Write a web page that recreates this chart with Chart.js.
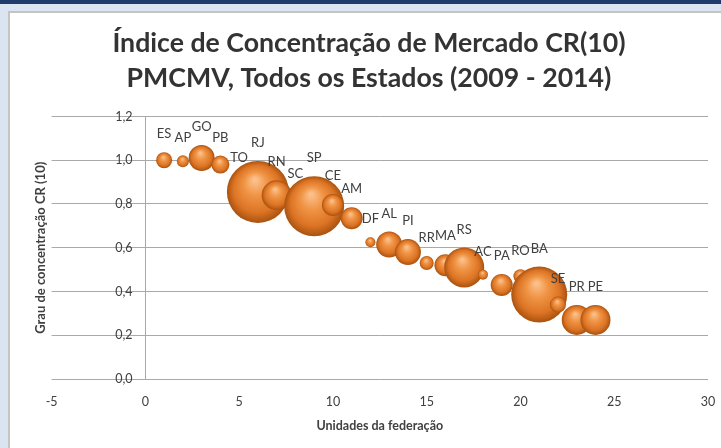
<!DOCTYPE html>
<html>
<head>
<meta charset="utf-8">
<script src="https://cdn.jsdelivr.net/npm/chart.js@4"></script>
<style>
  body { margin: 0; background: #dbe5f1; width: 721px; height: 448px; overflow: hidden; position: relative; }
  .barra { position: absolute; left: 0; top: 0; width: 721px; height: 4px; background: #1f3b6b; }
  .painel { position: absolute; left: 8px; top: 11px; width: 711px; height: 435px; background: #fff;
            border-left: 2px solid #c4c4c4; border-top: 2px solid #c4c4c4; }
</style>
</head>
<body>
<div class="barra"></div>
<div class="painel"><canvas id="graficoCR" width="711" height="435"></canvas></div>
<script>
// estados na ordem do eixo x (posição 1..24)
const estados = ["ES", "AP", "GO", "PB", "TO", "RJ", "RN", "SC", "SP", "CE", "AM", "DF",
  "AL", "PI", "RR", "MA", "RS", "AC", "PA", "RO", "BA", "SE", "PR", "PE"];
const posicao = [1, 2, 3, 4, 5, 6, 7, 8, 9, 10, 11, 12, 13, 14, 15, 16, 17, 18, 19, 20, 21, 22, 23, 24];
const cr10 = [1.00, 0.995, 1.01, 0.98, 0.895, 0.855, 0.84, 0.82, 0.79, 0.795, 0.735, 0.625,
  0.615, 0.58, 0.53, 0.52, 0.51, 0.477, 0.43, 0.47, 0.386, 0.34, 0.27, 0.27];
// tamanho da bolha
const tamanho = [8, 6, 13, 9, 7, 31, 15, 8, 30, 11, 11, 5, 13, 13, 7, 11, 20, 5, 11, 7, 28, 8, 15, 15];
const ticksX = [-5, 0, 5, 10, 15, 20, 25, 30];

const fonte = "Lato, 'Liberation Sans', sans-serif";
const cinza = "#404040";

function corBolha(c) {
  const chart = c.chart;
  const p = c.raw;
  if (!p || !chart.chartArea) return "#e07a2a";
  const x = chart.scales.x.getPixelForValue(p.x);
  const y = chart.scales.y.getPixelForValue(p.y);
  const r = p.r;
  const g = chart.ctx.createRadialGradient(x - r * 0.1, y - r * 0.4, r * 0.05, x, y, r);
  g.addColorStop(0, "#fbc08a");
  g.addColorStop(0.35, "#f09445");
  g.addColorStop(0.75, "#dc7424");
  g.addColorStop(1, "#a9520f");
  return g;
}

// rótulos dos estados acima de cada bolha
const rotulos = {
  id: "rotulos",
  afterDatasetsDraw(chart) {
    const ctx = chart.ctx;
    const meta = chart.getDatasetMeta(0);
    ctx.save();
    ctx.font = "13px " + fonte;
    ctx.fillStyle = cinza;
    ctx.textAlign = "center";
    ctx.textBaseline = "middle";
    meta.data.forEach((el, i) => {
      const r = chart.data.datasets[0].data[i].r;
      ctx.fillText(estados[i], el.x, el.y - r - 18);
    });
    ctx.restore();
  }
};

const pontos = estados.map((e, i) => ({ x: posicao[i], y: cr10[i], r: tamanho[i] }));

new Chart(document.getElementById("graficoCR"), {
  type: "bubble",
  data: {
    datasets: [{
      label: "CR(10)",
      data: pontos,
      backgroundColor: corBolha,
      borderWidth: 0,
      hoverBorderWidth: 0
    }]
  },
  options: {
    responsive: false,
    animation: false,
    layout: { autoPadding: false, padding: { left: 20, right: 13, bottom: 11, top: 0 } },
    plugins: {
      legend: { display: false },
      tooltip: { enabled: false },
      title: {
        display: true,
        fullSize: true,
        text: ["Índice de Concentração de Mercado CR(10)", "PMCMV, Todos os Estados (2009 - 2014)"],
        color: "#333333",
        font: { family: fonte, size: 26.7, weight: "bold", lineHeight: 1.32 },
        padding: { top: 13, bottom: 20 }
      }
    },
    scales: {
      x: {
        type: "linear",
        min: -5,
        max: 30,
        afterBuildTicks: (s) => { s.ticks = ticksX.map(v => ({ value: v })); },
        grid: { display: false, drawTicks: true, tickLength: 12 },
        border: { display: false },
        ticks: { color: cinza, font: { family: fonte, size: 12.5 }, padding: 3 },
        title: {
          display: true,
          text: "Unidades da federação",
          color: cinza,
          font: { family: fonte, size: 12.5, weight: "bold" },
          padding: { top: 6, bottom: 4 }
        }
      },
      y: {
        type: "linear",
        min: 0,
        max: 1.2,
        position: { x: 0 },
        grid: { color: "#a9a9a9", drawTicks: false },
        border: { color: "#a9a9a9" },
        ticks: {
          stepSize: 0.2,
          color: cinza,
          font: { family: fonte, size: 12.5 },
          callback: (v) => v.toFixed(1).replace(".", ",") + "    "
        }
      },
      yTitulo: {
        type: "linear",
        position: "left",
        display: true,
        grid: { display: false, drawTicks: false },
        border: { display: false },
        ticks: { display: false },
        title: {
          display: true,
          text: "Grau de concentração CR (10)",
          color: cinza,
          font: { family: fonte, size: 13, weight: "bold" },
          padding: { top: 3, bottom: 3 }
        }
      }
    }
  },
  plugins: [rotulos]
});
</script>
</body>
</html>
